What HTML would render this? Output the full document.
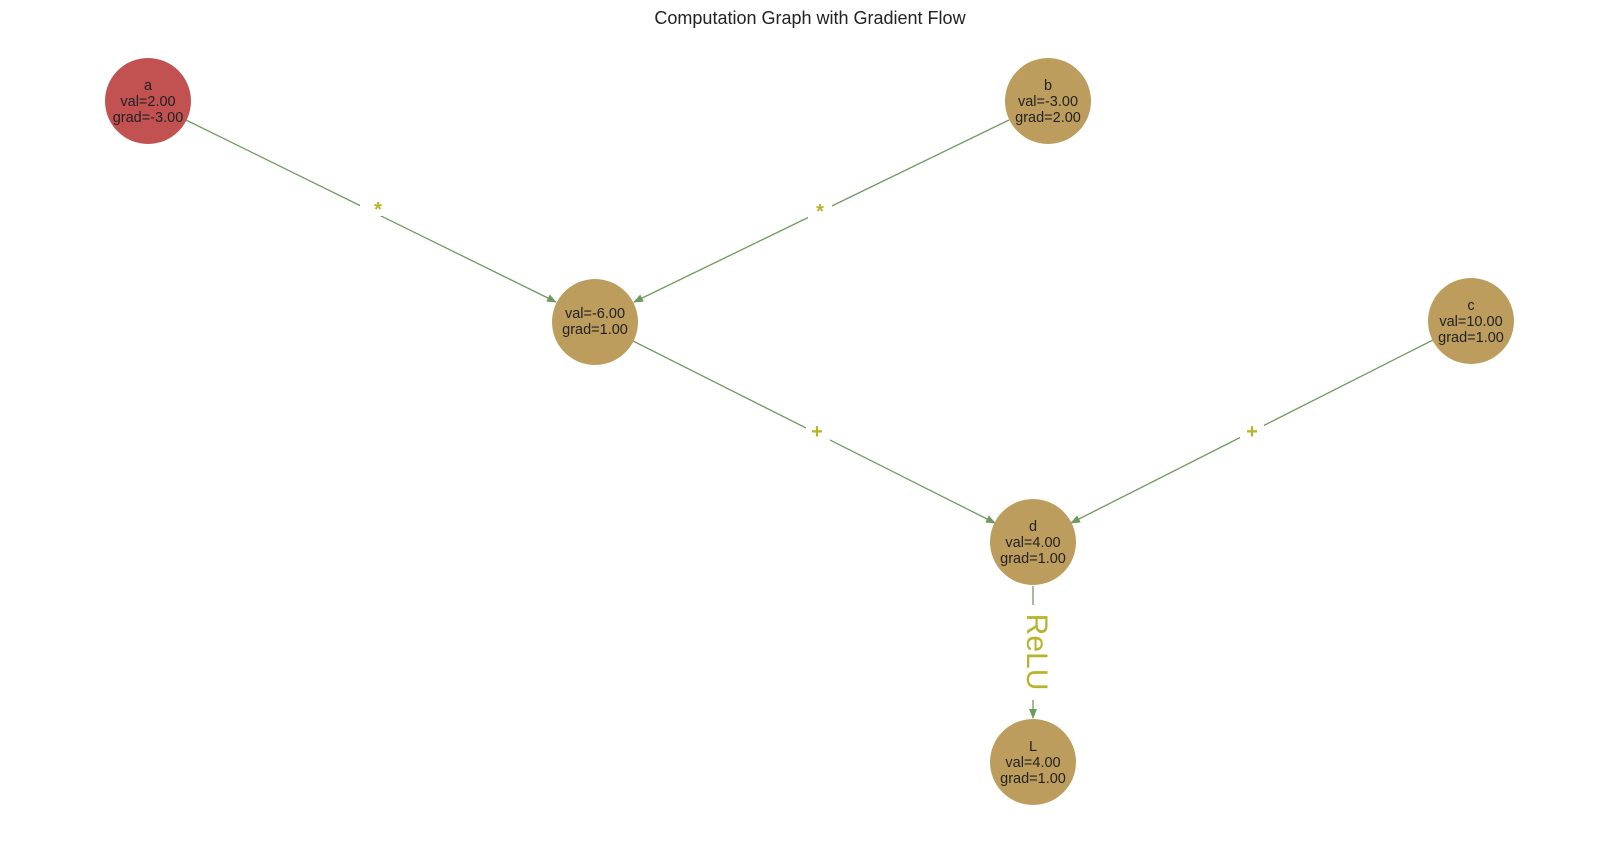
<!DOCTYPE html>
<html><head><style>body{margin:0;background:#fff}</style></head><body>
<svg width="1620" height="842" xmlns="http://www.w3.org/2000/svg" font-family="Liberation Sans, Arial, sans-serif">
<defs><marker id="ar" markerWidth="10" markerHeight="8" refX="9" refY="4" orient="auto" markerUnits="userSpaceOnUse"><path d="M0,0 L10,4 L0,8 z" fill="#6f9a5f"/></marker></defs>
<text x="810" y="24" font-size="18" text-anchor="middle" fill="#222">Computation Graph with Gradient Flow</text>
<g stroke="#6f9a5f" stroke-width="1.3" fill="none">
<line x1="186" y1="120" x2="556" y2="302" marker-end="url(#ar)"/>
<line x1="1009" y1="120" x2="634" y2="302" marker-end="url(#ar)"/>
<line x1="633" y1="341" x2="995" y2="523" marker-end="url(#ar)"/>
<line x1="1433" y1="340" x2="1071" y2="523" marker-end="url(#ar)"/>
<line x1="1033" y1="586" x2="1033" y2="605"/>
<line x1="1033" y1="700" x2="1033" y2="718" marker-end="url(#ar)"/>
</g>
<g fill="#fff"><rect x="360" y="194" width="24" height="22"/><rect x="808" y="198" width="24" height="22"/><rect x="806" y="420" width="24" height="22"/><rect x="1240" y="420" width="24" height="22"/></g>
<g fill="#b5b52a" font-size="20" font-weight="bold" text-anchor="middle">
<text x="378" y="216">*</text><text x="820" y="218">*</text><text x="817" y="438">+</text><text x="1252" y="438">+</text>
</g>
<text transform="translate(1027,652) rotate(90)" font-size="30" fill="#b5b52a" text-anchor="middle">ReLU</text>
<g font-size="14.5" fill="#222" text-anchor="middle">
<circle cx="148" cy="101" r="43" fill="#c25251"/>
<text x="148" y="90">a</text><text x="148" y="106">val=2.00</text><text x="148" y="122">grad=-3.00</text>
<circle cx="1048" cy="101" r="43" fill="#bd9d5d"/>
<text x="1048" y="90">b</text><text x="1048" y="106">val=-3.00</text><text x="1048" y="122">grad=2.00</text>
<circle cx="595" cy="322" r="43" fill="#bd9d5d"/>
<text x="595" y="318">val=-6.00</text><text x="595" y="334">grad=1.00</text>
<circle cx="1471" cy="321" r="43" fill="#bd9d5d"/>
<text x="1471" y="310">c</text><text x="1471" y="326">val=10.00</text><text x="1471" y="342">grad=1.00</text>
<circle cx="1033" cy="542" r="43" fill="#bd9d5d"/>
<text x="1033" y="531">d</text><text x="1033" y="547">val=4.00</text><text x="1033" y="563">grad=1.00</text>
<circle cx="1033" cy="762" r="43" fill="#bd9d5d"/>
<text x="1033" y="751">L</text><text x="1033" y="767">val=4.00</text><text x="1033" y="783">grad=1.00</text>
</g>
</svg>
</body></html>
